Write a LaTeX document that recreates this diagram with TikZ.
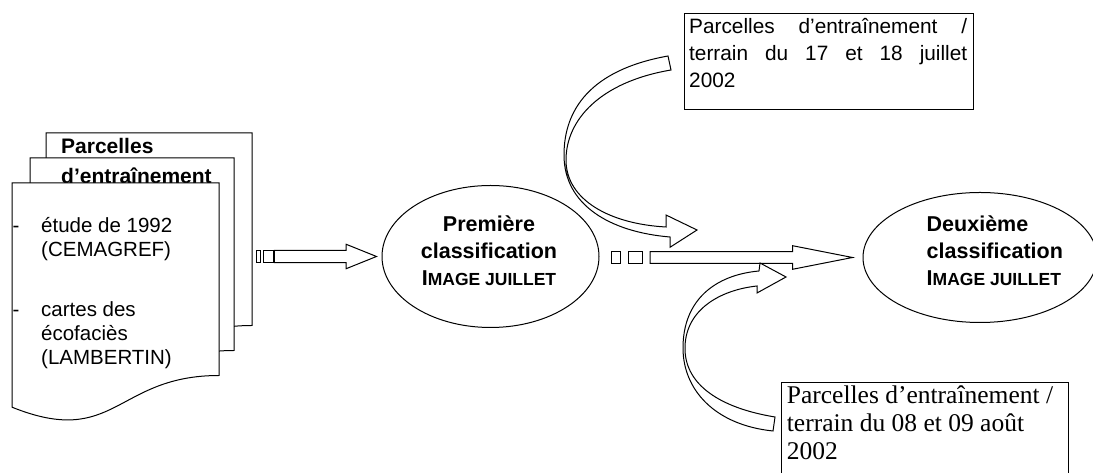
\documentclass[tikz,border=0pt]{standalone}
\usepackage{fontspec}
\setmainfont{Liberation Sans}
\newfontfamily\timesfont{Liberation Serif}
\usetikzlibrary{shapes.geometric, calc}

\tikzset{
  page/.style={draw, fill=white, line width=1pt},
  blockarrow/.style={draw, fill=white, line width=1pt},
  classif/.style={ellipse, draw, line width=1pt, inner sep=0pt},
  classtext/.style={inner sep=0pt, font=\bfseries\fontsize{21.5}{27}\selectfont},
  doctext/.style={inner sep=0pt, anchor=base west, align=left, font=\fontsize{20.5}{23.7}\selectfont},
  terrain/.style={draw, line width=1.4pt, inner sep=0pt},
}

\newcommand{\docpage}[3]{%
  \draw[page] (#1,#2) -- (#1+#3,#2) -- (#1+#3,#2-192.5)
    .. controls (#1+#3/2,#2-192.5) and (#1+#3/2,#2-265.7) .. (#1,#2-224.2) -- cycle;}
\newcommand{\imagejuillet}{I{\fontsize{17.5}{27}\selectfont MAGE JUILLET}}

\begin{document}
\begin{tikzpicture}[x=1pt, y=1pt]
	\useasboundingbox (0,0) rectangle (1093,473);
	\clip (0,0) rectangle (1093,473);
	% pile de documents
	\docpage{46}{340}{206}
	\docpage{30}{315}{204}
	\node (titre) [anchor=base west, align=left, inner sep=0pt, font=\bfseries\fontsize{21}{30}\selectfont] at (61,289) {Parcelles\\d’entraînement};
	\docpage{12}{290}{207}
	\node (tiretA) [doctext] at (12.5,240.3) {-};
	\node (etude) [doctext] at (41,216.6) {étude de 1992\\(CEMAGREF)};
	\node (tiretB) [doctext] at (12.5,156.3) {-};
	\node (cartes) [doctext] at (41,108.9) {cartes des\\écofaciès\\(LAMBERTIN)};

	% classifications
	\node (prem) [classif, minimum width=217pt, minimum height=142pt] at (490.5,216.5) {};
	\node (deux) [classif, minimum width=234pt, minimum height=130pt] at (980,215.5) {};
	\node (premtxt) [classtext, align=center, anchor=base] at (489,187) {Première\\classification\\\imagejuillet};
	\node (deuxtxt) [classtext, align=left, anchor=base west] at (926.5,187) {Deuxième\\classification\\\imagejuillet};

	% fleches rayees
	\coordinate (queueA) at (256,216.5);
	\coordinate (pointeA) at ($(prem.west)+(-5,0)$);
	\draw[blockarrow] ($(queueA)+(0,-6.2)$) rectangle ++(4.7,12.4);
	\draw[blockarrow] ($(queueA)+(7.3,-6.2)$) rectangle ++(10,12.4);
	\draw[blockarrow] ($(queueA)+(18.3,6.2)$) -- ($(pointeA)+(-30.3,6.2)$) -- ($(pointeA)+(-30.3,12.2)$) -- (pointeA)
		-- ($(pointeA)+(-30.3,-12.2)$) -- ($(pointeA)+(-30.3,-6.2)$) -- ($(queueA)+(18.3,-6.2)$) -- cycle;

	\coordinate (queueB) at (611.7,215.5);
	\coordinate (pointeB) at ($(deux.west)+(-10,0)$);
	\draw[blockarrow] ($(queueB)+(0,-5.8)$) rectangle ++(9,11.6);
	\draw[blockarrow] ($(queueB)+(16.6,-5.8)$) rectangle ++(14.4,11.6);
	\draw[blockarrow] ($(queueB)+(38.3,5.8)$) -- ($(pointeB)+(-60,5.8)$) -- ($(pointeB)+(-60,11.8)$) -- (pointeB)
		-- ($(pointeB)+(-60,-11.8)$) -- ($(pointeB)+(-60,-5.8)$) -- ($(queueB)+(38.3,-5.8)$) -- cycle;

	% parcelles de terrain
	\node (boxjuil) [terrain, anchor=north west, minimum width=289pt, minimum height=96pt] at (684,460) {};
	\node (txtjuil) [anchor=base west, align=left, inner sep=0pt, font=\fontsize{20.8}{27}\selectfont] at (689,385.7)
		{\makebox[278pt][s]{Parcelles d’entraînement /}\\\makebox[278pt][s]{terrain du 17 et 18 juillet}\\2002};
	\node (boxaout) [terrain, anchor=north west, minimum width=287pt, minimum height=120pt] at (781,91) {};
	\node (txtaout) [anchor=base west, align=left, inner sep=0pt, font=\timesfont\fontsize{25.5}{28}\selectfont] at (786.7,13)
		{Parcelles d’entraînement /\\terrain du 08 et 09 août\\2002};

	% fleches courbes
	\draw[blockarrow] (668,417) .. controls (590,403) and (564,363) .. (564,318)
		.. controls (564,268) and (610,241) .. (670,236)
		-- (670,225.7) -- (697,243) -- (666,258) -- (666,246)
		.. controls (610,249) and (566,273) .. (566,313)
		.. controls (566,353) and (600,391) .. (671,403) -- cycle;
	\draw[blockarrow] (775,56) .. controls (720,65) and (686,88) .. (685,123)
		.. controls (684,163) and (720,183) .. (757,187)
		-- (757,180) -- (786,196) -- (760,210) -- (759,202)
		.. controls (715,198) and (683,173) .. (683,125)
		.. controls (683,83) and (715,48) .. (773,42) -- cycle;
\end{tikzpicture}
\end{document}
